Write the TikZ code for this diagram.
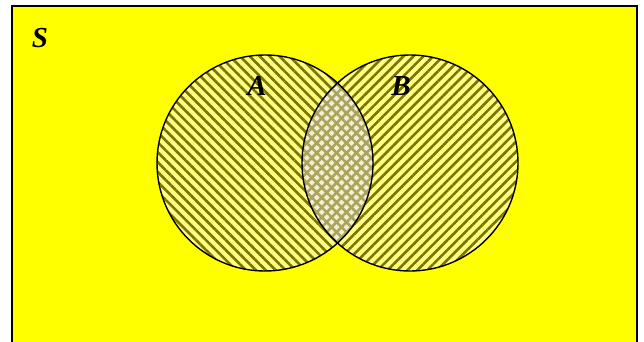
\documentclass[tikz,border=0pt]{standalone}
\usepackage{fontspec}
\setmainfont{Liberation Serif}
\usetikzlibrary{patterns.meta}
\definecolor{vy}{RGB}{255,255,0}
\definecolor{ly}{RGB}{255,255,130}
\definecolor{ol}{RGB}{125,115,0}
\definecolor{gy}{RGB}{235,232,190}
\tikzset{
  setcirc/.style={circle, minimum size=216pt, inner sep=0pt},
  lbl/.style={font=\bfseries\itshape\fontsize{29}{29}\selectfont, inner sep=0pt}
}
\begin{document}
\begin{tikzpicture}[x=1pt,y=-1pt]
\useasboundingbox (0,0) rectangle (644,341);
\fill[white] (0,0) rectangle (644,341);
\fill[vy] (12,6) rectangle (637,345);
\draw[line width=2pt] (12,345) -- (12,6) -- (637,6) -- (637,345);
\node[setcirc] (A) at (265,163) {};
\node[setcirc] (B) at (410,163) {};
% fills
\fill[ly] (A.center) circle (108);
\fill[ly] (B.center) circle (108);
\begin{scope}
  \clip (A.center) circle (108);
  \fill[gy] (B.center) circle (108);
\end{scope}
\fill[pattern={Lines[angle=-45,distance=7pt,line width=2.6pt]}, pattern color=ol] (A.center) circle (108);
\fill[pattern={Lines[angle=45,distance=7pt,line width=2.6pt]}, pattern color=ol] (B.center) circle (108);
\begin{scope}
  \clip (A.center) circle (108);
  \fill[white, opacity=0.35] (B.center) circle (108);
\end{scope}
\draw[line width=1.4pt] (A.center) circle (108);
\draw[line width=1.4pt] (B.center) circle (108);
\node[lbl] (S) at (40,38) {S};
\node[lbl] (la) at (257,86) {A};
\node[lbl] (lb) at (401,86) {B};
\end{tikzpicture}
\end{document}
